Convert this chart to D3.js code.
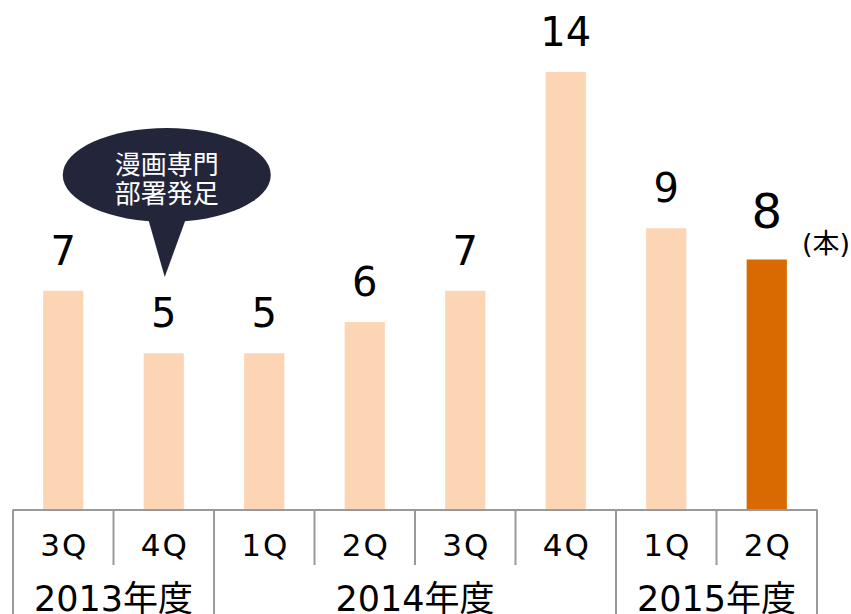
<!DOCTYPE html>
<html>
<head>
<meta charset="utf-8">
<script src="https://cdn.jsdelivr.net/npm/d3@7"></script>
<style>
  html, body { margin: 0; padding: 0; background: #fff; }
  svg { display: block; }
  text { font-family: "DejaVu Sans", "Noto Sans CJK JP", sans-serif; }
  .cjk { font-family: "Noto Sans CJK JP", sans-serif; }
</style>
</head>
<body>
<svg id="chart" width="851" height="614"></svg>
<script>
// Quarterly counts, fiscal 2013 Q3 through fiscal 2015 Q2
const quarters = ["3Q", "4Q", "1Q", "2Q", "3Q", "4Q", "1Q", "2Q"];
const fiscalYears = ["2013年度", "2013年度", "2014年度", "2014年度", "2014年度", "2014年度", "2015年度", "2015年度"];
const values = [7, 5, 5, 6, 7, 14, 9, 8];
const highlightIndex = 7;
const unitLabel = "(本)";
const calloutLines = ["漫画専門", "部署発足"];
const calloutIndex = 1;

const svg = d3.select("#chart");
const keys = quarters.map((q, i) => fiscalYears[i] + "-" + q);

const baseY = 509.5;
const x = d3.scaleBand().domain(keys).range([13, 817]).paddingInner(0.6).paddingOuter(0.3);
const y = d3.scaleLinear().domain([0, 14]).range([baseY, 72]);
const step = x.step();
const left = x.range()[0];

// Bars
svg.append("g").selectAll("rect")
  .data(values)
  .join("rect")
  .attr("x", (d, i) => x(keys[i]))
  .attr("y", d => y(d))
  .attr("width", x.bandwidth())
  .attr("height", d => y(0) - y(d))
  .attr("fill", (d, i) => i === highlightIndex ? "#d96a02" : "#fcd5b4");

// Value labels
svg.append("g").selectAll("text")
  .data(values)
  .join("text")
  .attr("x", (d, i) => x(keys[i]) + x.bandwidth() / 2)
  .attr("y", (d, i) => y(d) - (i === highlightIndex ? 32 : 26))
  .attr("text-anchor", "middle")
  .attr("font-size", (d, i) => i === highlightIndex ? 48 : 40)
  .attr("fill", "#000")
  .text(d => d);

// Unit label
svg.append("text")
  .attr("x", 802)
  .attr("y", 253)
  .attr("font-size", 27)
  .attr("fill", "#000")
  .text(unitLabel);

// Category axis: baseline and dividers
const axis = svg.append("g").attr("stroke", "#999").attr("stroke-width", 2);
axis.append("line")
  .attr("x1", left).attr("x2", x.range()[1])
  .attr("y1", baseY + 0.5).attr("y2", baseY + 0.5);

const boundaries = d3.range(quarters.length + 1);
axis.selectAll("line.div")
  .data(boundaries)
  .join("line")
  .attr("class", "div")
  .attr("x1", k => left + step * k)
  .attr("x2", k => left + step * k)
  .attr("y1", baseY)
  .attr("y2", k => (k === 0 || k === quarters.length || fiscalYears[k] !== fiscalYears[k - 1]) ? 614 : 565);

// Quarter labels
svg.append("g").selectAll("text")
  .data(quarters)
  .join("text")
  .attr("x", (d, i) => x(keys[i]) + x.bandwidth() / 2 + 1)
  .attr("y", 556)
  .attr("text-anchor", "middle")
  .attr("font-size", 31)
  .attr("letter-spacing", 2)
  .attr("fill", "#000")
  .text(d => d);

// Fiscal-year group labels
const groups = d3.groups(fiscalYears.map((fy, i) => ({ fy, i })), d => d.fy)
  .map(([fy, items]) => ({ fy, first: items[0].i, last: items[items.length - 1].i }));
svg.append("g").selectAll("text")
  .data(groups)
  .join("text")
  .attr("x", g => left + step * (g.first + g.last + 1) / 2)
  .attr("y", 611)
  .attr("text-anchor", "middle")
  .attr("font-size", 35)
  .attr("fill", "#000")
  .text(g => g.fy);

// Speech-bubble callout above the 2013 4Q bar
const cx = x(keys[calloutIndex]) + x.bandwidth() / 2 + 3;
const bubble = svg.append("g").attr("fill", "#23263b");
bubble.append("ellipse")
  .attr("cx", cx).attr("cy", 175)
  .attr("rx", 104).attr("ry", 47);
bubble.append("path")
  .attr("d", `M${cx - 20},214 L${cx + 22},211 L${cx - 2},277 Z`);
svg.append("g").selectAll("text")
  .data(calloutLines)
  .join("text")
  .attr("class", "cjk")
  .attr("x", cx)
  .attr("y", (d, i) => 174 + i * 29)
  .attr("text-anchor", "middle")
  .attr("font-size", 26)
  .attr("fill", "#fff")
  .text(d => d);
</script>
</body>
</html>
